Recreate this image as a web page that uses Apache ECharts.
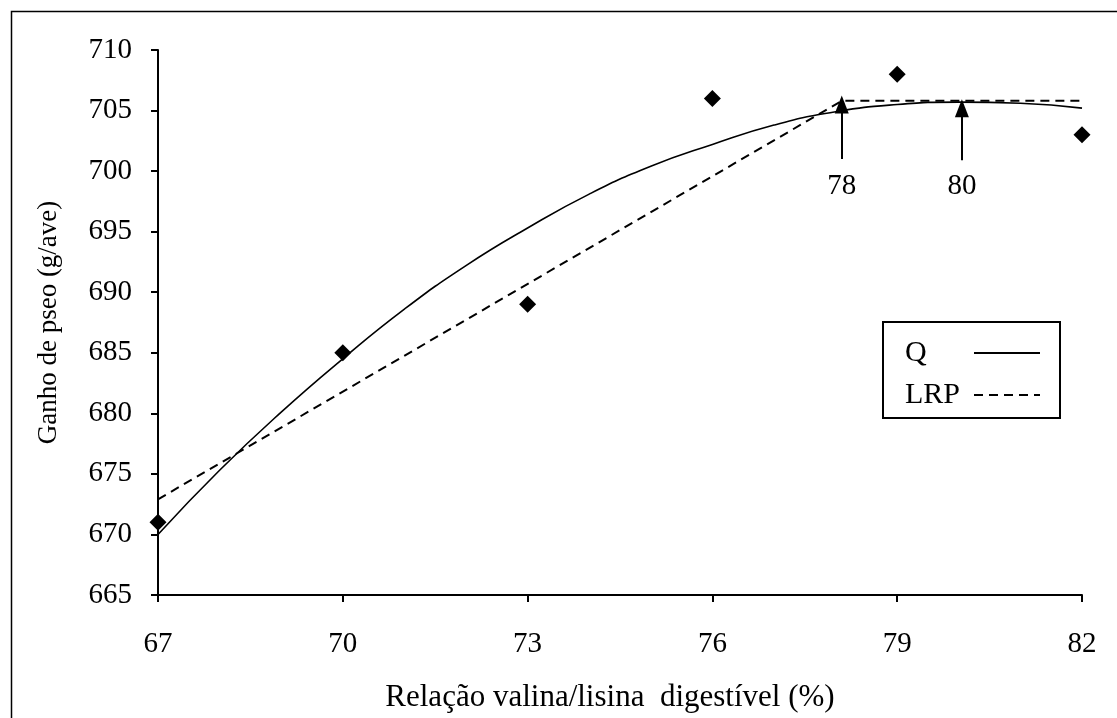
<!DOCTYPE html>
<html>
<head>
<meta charset="utf-8">
<script src="https://cdn.jsdelivr.net/npm/echarts@6/dist/echarts.min.js"></script>
<style>
  html, body { margin: 0; padding: 0; background: #fff; }
  #chart { width: 1117px; height: 718px; }
</style>
</head>
<body>
<div id="chart"></div>
<script>
// observed points (valine/lysine ratio, weight gain)
const obsX = [67, 70, 73, 76, 79, 82]
const obsY = [671, 685, 689, 706, 708, 703]

// quadratic fit
const quadX = [67, 68, 69, 70, 71, 72, 73, 74, 75, 76, 77, 78, 79, 80, 81, 82]
const quadY = [670.0, 675.3, 680.1, 684.5, 688.6, 692.2, 695.3, 698.1, 700.4, 702.2, 703.8, 704.9, 705.5, 705.7, 705.6, 705.2]

// linear response plateau
const lrpX = [67, 78.1, 82]
const lrpY = [672.9, 705.8, 705.8]

// arrows marking the estimated requirements
const arrowX = [78.1, 80.05]
const arrowFrom = [701.0, 700.9]
const arrowTo = [705.5, 705.2]
const arrowLabels = ['78', '80']
const arrowLabelY = [698.7, 698.7]

const font = '"Liberation Serif", "Times New Roman", serif'

const chart = echarts.init(document.getElementById('chart'))

function pairs (xs, ys) {
  return xs.map((x, i) => [x, ys[i]])
}

const arrowLines = arrowX.map((x, i) => [
  { coord: [x, arrowFrom[i]] },
  { coord: [x, arrowTo[i]] }
])

chart.setOption({
  animation: false,
  backgroundColor: '#fff',
  graphic: [{
    type: 'rect',
    left: 9,
    top: 9,
    shape: { width: 1120, height: 708 },
    style: { fill: 'none', stroke: '#000', lineWidth: 1.5 },
    silent: true
  }],
  grid: { left: 158, right: 35, top: 50, bottom: 123 },
  legend: {
    data: ['Q', 'LRP'],
    orient: 'vertical',
    left: 883,
    top: 322,
    align: 'right',
    padding: [16, 19, 8, 22],
    itemGap: 12,
    itemWidth: 66,
    itemHeight: 14,
    borderColor: '#000',
    borderWidth: 2,
    borderRadius: 0,
    selectedMode: false,
    itemStyle: { color: 'rgba(0,0,0,0)', borderWidth: 0 },
    formatter: '{t|{name}}',
    textStyle: {
      color: '#000',
      fontFamily: font,
      fontSize: 30,
      rich: {
        t: { width: 64, align: 'left', color: '#000', fontFamily: font, fontSize: 30 }
      }
    }
  },
  xAxis: {
    type: 'value',
    min: 67,
    max: 82,
    interval: 3,
    name: 'Relação valina/lisina  digestível (%)',
    nameLocation: 'middle',
    nameGap: 87,
    nameTextStyle: { color: '#000', fontFamily: font, fontSize: 31, padding: [0, 20, 0, 0] },
    axisLine: { lineStyle: { color: '#000', width: 2 } },
    axisTick: { length: 7, lineStyle: { color: '#000', width: 2 } },
    axisLabel: { color: '#000', fontFamily: font, fontSize: 29, margin: 35 },
    splitLine: { show: false }
  },
  yAxis: {
    type: 'value',
    min: 665,
    max: 710,
    interval: 5,
    name: 'Ganho de pseo (g/ave)',
    nameLocation: 'middle',
    nameGap: 96,
    nameTextStyle: { color: '#000', fontFamily: font, fontSize: 27 },
    axisLine: { lineStyle: { color: '#000', width: 2 } },
    axisTick: { length: 7, lineStyle: { color: '#000', width: 2 } },
    axisLabel: { color: '#000', fontFamily: font, fontSize: 29, margin: 26 },
    splitLine: { show: false }
  },
  series: [
    {
      name: 'Q',
      type: 'line',
      smooth: true,
      symbol: 'none',
      lineStyle: { color: '#000', width: 1.6 },
      itemStyle: { color: '#000' },
      data: pairs(quadX, quadY),
      z: 3
    },
    {
      name: 'LRP',
      type: 'line',
      symbol: 'none',
      lineStyle: { color: '#000', width: 2, type: [9, 6] },
      itemStyle: { color: '#000' },
      data: pairs(lrpX, lrpY),
      z: 3
    },
    {
      name: 'obs',
      type: 'scatter',
      symbol: 'diamond',
      symbolSize: 17,
      itemStyle: { color: '#000', opacity: 1 },
      data: pairs(obsX, obsY),
      z: 4
    },
    {
      name: 'arrows',
      type: 'scatter',
      symbolSize: 0,
      itemStyle: { opacity: 1 },
      data: pairs(arrowX, arrowLabelY).map((p, i) => ({ value: p, label: { formatter: arrowLabels[i] } })),
      label: {
        show: true,
        position: 'inside',
        color: '#000',
        fontFamily: font,
        fontSize: 29
      },
      markLine: {
        silent: true,
        symbol: ['none', 'triangle'],
        symbolSize: [14, 18],
        label: { show: false },
        lineStyle: { color: '#000', width: 2, type: 'solid' },
        data: arrowLines
      },
      z: 5
    }
  ]
})
</script>
</body>
</html>
